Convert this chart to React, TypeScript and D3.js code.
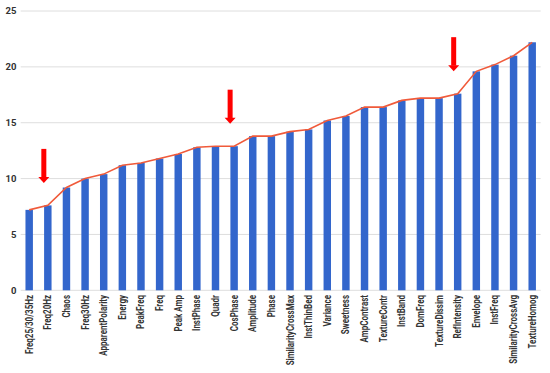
import React from "react";
import * as d3 from "d3";

const categories = [
  "Freq25/30/35Hz", "Freq20Hz", "Chaos", "Freq30Hz", "ApparentPolarity", "Energy",
  "PeakFreq", "Freq", "Peak Amp", "InstPhase", "Quadr", "CosPhase", "Amplitude",
  "Phase", "SimilarityCrossMax", "InstThinBed", "Variance", "Sweetness", "AmpContrast",
  "TextureContr", "InstBand", "DomFreq", "TextureDissim", "RefIntensity", "Envelope",
  "InstFreq", "SimilarityCrossAvg", "TextureHomog",
];
const values = [
  7.2, 7.6, 9.2, 10.0, 10.4, 11.2, 11.4, 11.8, 12.2, 12.8, 12.9, 12.9, 13.8, 13.8,
  14.2, 14.4, 15.2, 15.6, 16.4, 16.4, 17.0, 17.2, 17.2, 17.6, 19.6, 20.2, 21.0, 22.2,
];
const yTicks = [0, 5, 10, 15, 20, 25];
const highlighted = ["Freq20Hz", "CosPhase", "RefIntensity"];

const W = 550, H = 373;

export default function App() {
  const x = d3.scaleBand<string>().domain(categories).range([20.7, 540.7]).paddingInner(0.6).paddingOuter(0.256);
  const y = d3.scaleLinear().domain([0, 25]).range([290.3, 11]);
  const cx = (c: string) => (x(c) as number) + x.bandwidth() / 2;
  const line = d3.line<number>().x((_, i) => cx(categories[i])).y((v) => y(v));

  const arrowLen = 34, headH = 6, headW = 11, shaftW = 5;

  return (
    <svg width={W} height={H} style={{ position: "absolute", left: 0, top: 0, background: "#fff" }}>
      {yTicks.map((t) => (
        <g key={t}>
          <line x1={20.7} x2={540.7} y1={y(t)} y2={y(t)} stroke="#dedede" strokeWidth={1} />
          <text x={16.5} y={y(t)} dy="0.35em" textAnchor="end" fontFamily="Roboto" fontWeight={700}
            fontSize={9.5} fill="#333">{t}</text>
        </g>
      ))}
      {categories.map((c, i) => (
        <rect key={c} x={x(c)} y={y(values[i])} width={x.bandwidth()} height={y(0) - y(values[i])} fill="#3366cc" />
      ))}
      <path d={line(values) || ""} fill="none" stroke="#f05a3a" strokeWidth={1.6} />
      {categories.map((c) => (
        <text key={c} transform={`translate(${cx(c)},295) rotate(-90) scale(0.8,1)`} dy="0.35em"
          textAnchor="end" fontFamily="Roboto" fontWeight={700} fontSize={10} fill="#333">{c}</text>
      ))}
      {highlighted.map((c) => {
        const i = categories.indexOf(c);
        const ax = cx(c) - 4;
        const tip = y(values[i]) - 22.5;
        const top = tip - arrowLen;
        return (
          <g key={c} fill="#ff0000">
            <rect x={ax - shaftW / 2} y={top} width={shaftW} height={arrowLen - headH + 0.5} />
            <path d={`M${ax - headW / 2},${tip - headH} L${ax + headW / 2},${tip - headH} L${ax},${tip} Z`} />
          </g>
        );
      })}
    </svg>
  );
}
